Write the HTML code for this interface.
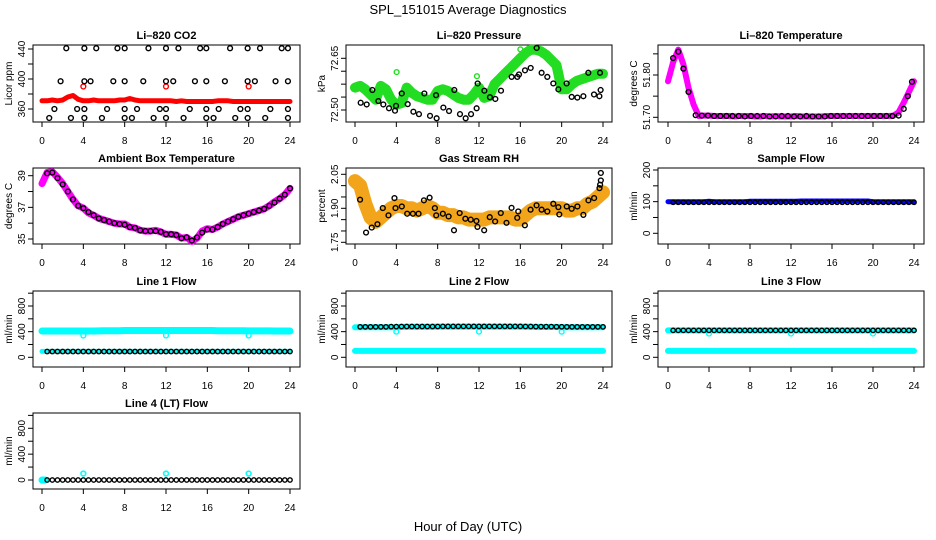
<!DOCTYPE html>
<html><head><meta charset="utf-8"><title>SPL_151015 Average Diagnostics</title>
<style>
html,body{margin:0;padding:0;background:#fff;}
svg{display:block;font-family:"Liberation Sans",sans-serif;}
</style></head>
<body>
<svg id="chart" width="936" height="540" viewBox="0 0 936 540" xmlns="http://www.w3.org/2000/svg">
<rect x="0" y="0" width="936" height="540" fill="#fff"/>
<text x="468" y="14" text-anchor="middle" font-size="13">SPL_151015  Average Diagnostics</text>
<text x="468" y="531" text-anchor="middle" font-size="13">Hour of Day (UTC)</text>
</svg>
<script>
// ---------- data ----------
const xTicks = [0,4,8,12,16,20,24];
const H = [0,0.5,1,1.5,2,2.5,3,3.5,4,4.5,5,5.5,6,6.5,7,7.5,8,8.5,9,9.5,10,10.5,11,11.5,12,12.5,13,13.5,14,14.5,15,15.5,16,16.5,17,17.5,18,18.5,19,19.5,20,20.5,21,21.5,22,22.5,23,23.5,24];
const HB = [0.5,1,1.5,2,2.5,3,3.5,4,4.5,5,5.5,6,6.5,7,7.5,8,8.5,9,9.5,10,10.5,11,11.5,12,12.5,13,13.5,14,14.5,15,15.5,16,16.5,17,17.5,18,18.5,19,19.5,20,20.5,21,21.5,22,22.5,23,23.5,24];
const outlierHours = [4,12,20];

// CO2
const co2Red = [371,371,372,371,372,376,378,373,371,371,372,371,371,371,371,372,372,374,372,371,371,371,371,371,371,371,370,371,370,370,370,370,370,370,371,371,371,370,370,370,370,370,370,370,370,370,370,370,370];
const co2RedOut = [390,390,390];
const co2BlackHours = [2.35,4.1,5.25,7.3,8.0,10.3,12.0,13.2,15.3,15.9,18.2,19.9,21.1,23.2,23.8, 1.8,4.1,4.7,6.9,8.0,9.8,12.0,12.7,14.8,15.9,17.7,19.9,20.6,22.6,23.8, 1.2,3.4,4.1,6.3,8.0,9.2,11.4,12.0,14.3,15.9,17.1,19.2,19.9,22.1,23.8, 0.7,2.8,4.1,5.8,8.0,8.7,10.8,12.0,13.7,15.9,16.6,18.7,19.9,21.6,23.8];
const co2BlackVals = [441,441,441,441,441,441,441,441,441,441,441,441,441,441,441, 397,397,397,397,397,397,397,397,397,397,397,397,397,397,397, 360,360,360,360,360,360,360,360,360,360,360,360,360,360,360, 348,348,348,348,348,348,348,348,348,348,348,348,348,348,348];

// Pressure
const presGreen = [72.565,72.57,72.56,72.545,72.53,72.57,72.56,72.53,72.515,72.52,72.565,72.55,72.54,72.535,72.53,72.53,72.555,72.56,72.555,72.545,72.535,72.53,72.53,72.545,72.565,72.535,72.54,72.575,72.59,72.605,72.62,72.635,72.65,72.665,72.675,72.675,72.67,72.66,72.645,72.63,72.56,72.56,72.575,72.585,72.59,72.595,72.6,72.605,72.605];
const presGreenOutHours = [4.03,11.8,16.0];
const presGreenOut = [72.61,72.598,72.676];
const presBlackHours = [0.55,1.13,1.68,2.26,2.74,3.29,3.87,3.97,4.52,5.10,5.65,6.19,6.71,7.26,7.84,7.9,8.55,9.1,9.61,10.16,10.71,11.23,11.77,11.87,12.52,13.06,13.58,14.13,15.16,15.71,15.87,16.45,17.0,17.58,18.06,18.61,19.19,19.68,20.48,20.97,21.52,22.1,22.58,23.13,23.65,23.77,23.71];
const presBlackVals = [72.521,72.516,72.558,72.526,72.516,72.505,72.498,72.512,72.548,72.517,72.495,72.488,72.548,72.483,72.543,72.476,72.507,72.497,72.558,72.488,72.476,72.488,72.505,72.577,72.556,72.537,72.532,72.556,72.596,72.596,72.603,72.615,72.622,72.68,72.608,72.596,72.577,72.56,72.577,72.538,72.536,72.54,72.608,72.545,72.54,72.558,72.608];

// Li-820 temperature
const tempMag = [51.785,51.83,51.86,51.825,51.77,51.73,51.703,51.704,51.704,51.703,51.703,51.703,51.703,51.702,51.703,51.703,51.703,51.702,51.702,51.703,51.702,51.703,51.702,51.702,51.702,51.703,51.702,51.702,51.702,51.702,51.702,51.703,51.703,51.703,51.703,51.703,51.703,51.703,51.703,51.703,51.703,51.703,51.703,51.703,51.704,51.712,51.735,51.76,51.785];
const tempBlackHours = [0.5,1,1.5,2,2.7,3.3,3.9,4.5,5.1,5.7,6.3,6.9,7.5,8.1,8.7,9.3,9.9,10.5,11.1,11.7,12.3,12.9,13.5,14.1,14.7,15.3,15.9,16.5,17.1,17.7,18.3,18.9,19.5,20.1,20.7,21.3,21.9,22.5,23.0,23.4,23.8];
const tempBlackVals = [51.84,51.855,51.815,51.76,51.705,51.704,51.704,51.703,51.703,51.703,51.703,51.703,51.702,51.703,51.703,51.703,51.702,51.702,51.703,51.703,51.702,51.702,51.703,51.702,51.702,51.702,51.703,51.703,51.703,51.703,51.703,51.703,51.703,51.703,51.703,51.703,51.703,51.704,51.72,51.75,51.784];

// Ambient box temperature
const ambMag = [38.5,39.2,39.25,38.9,38.5,38.0,37.5,37.1,36.95,36.65,36.5,36.3,36.2,36.1,36.0,35.95,35.95,35.75,35.7,35.55,35.5,35.5,35.55,35.45,35.3,35.3,35.25,35.05,35.1,34.85,35.05,35.5,35.65,35.6,35.75,35.95,36.1,36.25,36.4,36.5,36.6,36.7,36.8,36.9,37.1,37.35,37.55,37.8,38.2];
const ambBlack = [39.15,39.2,38.85,38.45,38.0,37.5,37.1,36.95,36.7,36.5,36.3,36.2,36.1,36.0,35.95,35.9,35.75,35.7,35.55,35.5,35.5,35.5,35.45,35.3,35.3,35.25,35.05,35.1,34.9,35.1,35.4,35.6,35.6,35.75,35.95,36.1,36.25,36.4,36.5,36.6,36.7,36.8,36.9,37.1,37.3,37.55,37.8,38.2];

// Gas stream RH
const rhOrange = [2.02,2.0,1.92,1.86,1.84,1.86,1.88,1.9,1.91,1.91,1.9,1.9,1.89,1.9,1.91,1.9,1.88,1.88,1.87,1.87,1.86,1.86,1.85,1.85,1.85,1.85,1.86,1.86,1.86,1.86,1.86,1.85,1.85,1.87,1.89,1.9,1.9,1.9,1.9,1.9,1.9,1.89,1.89,1.9,1.9,1.92,1.93,1.95,1.97];
const rhBlackHours = [0.49,1.07,1.62,2.17,2.69,3.24,3.82,3.92,4.53,5.05,5.6,6.15,6.67,7.22,7.73,7.86,8.5,9.06,9.58,10.13,10.68,11.2,11.75,11.85,12.5,13.04,13.56,14.11,14.66,15.15,15.7,15.8,16.44,16.99,17.57,18.06,18.61,19.19,19.68,19.77,20.49,20.97,21.52,22.1,22.59,23.14,23.66,23.79,23.79,23.72];
const rhBlackVals = [1.938,1.793,1.815,1.83,1.901,1.869,1.945,1.901,1.908,1.876,1.876,1.876,1.935,1.947,1.901,1.869,1.876,1.864,1.803,1.879,1.854,1.85,1.844,1.818,1.803,1.861,1.842,1.879,1.836,1.902,1.858,1.886,1.825,1.894,1.913,1.894,1.886,1.92,1.905,1.873,1.908,1.898,1.908,1.871,1.935,1.945,1.989,2.023,2.056,2.004];

// Sample flow
const sampleBlue = [100,100,100,100,100,100,100,100,101,100,100,100,100,100,100,100,101,101,101,101,101,101,101,101,101,101,102,102,102,102,102,102,102,102,102,102,102,102,102,102,100,100,100,100,100,100,100,100,100];
const sampleBlack = [98,98,98,98,98,98,98,98,98,98,98,98,98,98,98,98,98,98,98,98,98,98,98,98,98,98,98,98,98,98,98,98,98,98,98,98,98,98,98,98,98,98,98,98,98,98,98,98];

// Line 1
const l1CyanHigh = [410,410,410,410,410,410,410,410,410,410,410,412,415,415,415,415,418,418,418,418,418,418,418,418,418,418,418,418,418,418,418,418,418,418,415,415,415,415,415,415,412,412,412,412,412,410,410,410,410];
const l1CyanLow = [92,92,92,92,92,92,92,92,92,92,92,92,92,92,92,92,92,92,92,92,92,92,92,92,92,92,92,92,92,92,92,92,92,92,92,92,92,92,92,92,92,92,92,92,92,92,92,92,92];
const l1CyanOut = [340,340,340];
const l1Black = [90,90,90,90,90,90,90,90,90,90,90,90,90,90,90,90,90,90,90,90,90,90,90,90,90,90,90,90,90,90,90,90,90,90,90,90,90,90,90,90,90,90,90,90,90,90,90,90];

// Line 2
const l2CyanHigh = [470,470,470,470,470,470,470,470,470,472,475,475,475,475,475,475,478,478,478,478,478,478,478,478,478,478,478,478,478,478,478,478,478,478,476,474,472,472,472,472,468,468,468,468,468,468,468,468,468];
const l2CyanLow = [100,100,100,100,100,100,100,100,100,100,100,100,100,100,100,100,100,100,100,100,100,100,100,100,100,100,100,100,100,100,100,100,100,100,100,100,100,100,100,100,100,100,100,100,100,100,100,100,100];
const l2CyanOut = [400,400,400];
const l2Black = [475,475,475,475,475,475,478,478,480,480,480,480,480,480,480,480,482,482,482,482,482,482,482,482,482,482,482,482,482,482,482,482,480,480,478,478,478,478,476,476,475,475,475,475,475,475,475,475];

// Line 3
const l3CyanHigh = [420,420,420,420,420,420,420,420,420,420,420,420,420,420,420,420,420,420,420,420,420,420,420,420,420,420,420,420,420,420,420,420,420,420,420,420,420,420,420,420,420,420,420,420,420,420,420,420,420];
const l3CyanLow = [100,100,100,100,100,100,100,100,100,100,100,100,100,100,100,100,100,100,100,100,100,100,100,100,100,100,100,100,100,100,100,100,100,100,100,100,100,100,100,100,100,100,100,100,100,100,100,100,100];
const l3CyanOut = [370,370,370];
const l3Black = [420,420,420,420,420,420,420,420,420,420,420,420,420,420,420,420,420,420,420,420,420,420,420,420,420,420,420,420,420,420,420,420,420,420,420,420,420,420,420,420,420,420,420,420,420,420,420,420];

// Line 4
const l4CyanStartHours = [0,0.15,0.3];
const l4CyanStart = [0,0,0];
const l4CyanOut = [100,100,100];
const l4Black = [0,0,0,0,0,0,0,0,0,0,0,0,0,0,0,0,0,0,0,0,0,0,0,0,0,0,0,0,0,0,0,0,0,0,0,0,0,0,0,0,0,0,0,0,0,0,0,0];

// y ticks
const co2Ticks = [360,380,400,420,440], co2Labels = [360,400,440];
const presTicks = [72.50,72.5375,72.575,72.6125,72.65], presLabels = ['72.50','72.65'];
const tempTicks = [51.70,51.75,51.80,51.85], tempLabels = ['51.70','51.80'];
const ambTicks = [35,36,37,38,39], ambLabels = [35,37,39];
const rhTicks = [1.75,1.80,1.85,1.90,1.95,2.00,2.05], rhLabels = ['1.75','1.90','2.05'];
const sampleTicks = [0,50,100,150,200], sampleLabels = [0,100,200];
const flowTicks = [0,200,400,600,800,1000], flowLabels = [0,400,800];

// ---------- drawing ----------
const NS = 'http://www.w3.org/2000/svg';
const svg = document.getElementById('chart');
function mk(tag, attrs, parent){
  const e = document.createElementNS(NS, tag);
  for (const k in attrs) e.setAttribute(k, attrs[k]);
  (parent||svg).appendChild(e);
  return e;
}
const COLS = [{l:33,r:300,x0:42,x24:290},{l:346,r:612,x0:355,x24:603},{l:658,r:924,x0:668,x24:914}];
const ROWS = [{t:45,b:122},{t:168,b:244},{t:291,b:367},{t:413,b:489}];

function panel(name, title, ylab, col, row, yref, ticks, labels){
  const c = COLS[col], r = ROWS[row];
  const g = mk('g', {});
  
  
  const sx = h => c.x0 + (c.x24 - c.x0) * h / 24;
  const sy = v => yref[1] + (yref[3] - yref[1]) * (v - yref[0]) / (yref[2] - yref[0]);
  const box = mk('rect', {x:c.l, y:r.t, width:c.r-c.l, height:r.b-r.t, fill:'none', stroke:'#000', 'stroke-width':1}, g);
  
  
  const tt = mk('text', {x:(c.l+c.r)/2, y:r.t-6, 'text-anchor':'middle', 'font-size':11, 'font-weight':'bold'}, g);
  tt.textContent = title;
  
  
  const yt = mk('text', {transform:`translate(${c.l-21},${(r.t+r.b)/2}) rotate(-90)`, 'text-anchor':'middle', 'font-size':10}, g);
  yt.textContent = ylab;
  
  
  // x axis
  const xa = mk('g', {}, g);
  
  
  mk('line', {x1:sx(0), x2:sx(24), y1:r.b, y2:r.b, stroke:'#000'}, xa);
  xTicks.forEach(h => {
    mk('line', {x1:sx(h), x2:sx(h), y1:r.b, y2:r.b+5, stroke:'#000'}, xa);
    const t = mk('text', {x:sx(h), y:r.b+22, 'text-anchor':'middle', 'font-size':10}, xa);
    t.textContent = h;
    
    
  });
  // y axis
  const ya = mk('g', {}, g);
  
  
  mk('line', {x1:c.l, x2:c.l, y1:sy(ticks[0]), y2:sy(ticks[ticks.length-1]), stroke:'#000'}, ya);
  ticks.forEach(v => mk('line', {x1:c.l-5, x2:c.l, y1:sy(v), y2:sy(v), stroke:'#000'}, ya));
  labels.forEach(v => {
    const t = mk('text', {transform:`translate(${c.l-8},${sy(+v)}) rotate(-90)`, 'text-anchor':'middle', 'font-size':10}, ya);
    t.textContent = v;
    
    
  });
  return {g, sx, sy};
}
function band(p, name, hours, vals, color, w){
  const pts = hours.map((h,i)=>p.sx(h).toFixed(1)+','+p.sy(vals[i]).toFixed(1)).join(' ');
  const pl = mk('polyline', {points:pts, fill:'none', stroke:color, 'stroke-width':w, 'stroke-linejoin':'round', 'stroke-linecap':'round'}, p.g);
  
  
}
function pts(p, name, hours, vals, color, r, sw){
  const g = mk('g', {}, p.g);
  
  
  hours.forEach((h,i) => {
    const c = mk('circle', {cx:p.sx(h), cy:p.sy(vals[i]), r:r||2.4, fill:'none', stroke:color, 'stroke-width':sw||1.4}, g);
    
    
  });
}

// Panel 1
let p = panel('co2-panel','Li\u2013820 CO2','Licor ppm',0,0,[440,49,360,109],co2Ticks,co2Labels);
band(p,'co2-red-band',H,co2Red,'#ff0000',5);
pts(p,'co2-red-outliers',outlierHours,co2RedOut,'#ff0000',2.4,1.4);
pts(p,'co2-black-points',co2BlackHours,co2BlackVals,'#000',2.4,1.4);

// Panel 2
p = panel('pressure-panel','Li\u2013820 Pressure','kPa',1,0,[72.65,58.3,72.50,110],presTicks,presLabels);
band(p,'pressure-green-band',H,presGreen,'#22dd22',10);
pts(p,'pressure-green-outliers',presGreenOutHours,presGreenOut,'#22dd22',2.4,1.4);
pts(p,'pressure-black-points',presBlackHours,presBlackVals,'#000',2.4,1.4);

// Panel 3
p = panel('licor-temp-panel','Li\u2013820 Temperature','degrees C',2,0,[51.80,75,51.70,117.3],tempTicks,tempLabels);
band(p,'licor-temp-magenta-band',H,tempMag,'#ff00ff',6);
pts(p,'licor-temp-black-points',tempBlackHours,tempBlackVals,'#000',2.4,1.4);

// Panel 4
p = panel('ambient-temp-panel','Ambient Box Temperature','degrees C',0,1,[39,175.7,35,239],ambTicks,ambLabels);
band(p,'ambient-magenta-band',H,ambMag,'#ff00ff',7);
pts(p,'ambient-black-points',HB,ambBlack,'#000',2.4,1.4);

// Panel 5
p = panel('rh-panel','Gas Stream RH','percent',1,1,[2.05,174.3,1.75,242.3],rhTicks,rhLabels);
band(p,'rh-orange-band',H,rhOrange,'#f2a51a',14);
pts(p,'rh-black-points',rhBlackHours,rhBlackVals,'#000',2.4,1.4);

// Panel 6
p = panel('sample-flow-panel','Sample Flow','ml/min',2,1,[200,170,0,233.3],sampleTicks,sampleLabels);
band(p,'sample-blue-band',H,sampleBlue,'#0000ff',5);
pts(p,'sample-black-points',HB,sampleBlack,'#000',2.2,1.4);

// Panel 7
p = panel('line1-flow-panel','Line 1 Flow','ml/min',0,2,[800,306,0,357.3],flowTicks,flowLabels);
band(p,'line1-cyan-high',H,l1CyanHigh,'#00ffff',7);
band(p,'line1-cyan-low',H,l1CyanLow,'#00ffff',5);
pts(p,'line1-cyan-outliers',outlierHours,l1CyanOut,'#00ffff',2.4,1.4);
pts(p,'line1-black-points',HB,l1Black,'#000',2.2,1.4);

// Panel 8
p = panel('line2-flow-panel','Line 2 Flow','ml/min',1,2,[800,306,0,357.3],flowTicks,flowLabels);
band(p,'line2-cyan-high',H,l2CyanHigh,'#00ffff',6);
band(p,'line2-cyan-low',H,l2CyanLow,'#00ffff',6);
pts(p,'line2-cyan-outliers',outlierHours,l2CyanOut,'#00ffff',2.4,1.4);
pts(p,'line2-black-points',HB,l2Black,'#000',2.2,1.4);

// Panel 9
p = panel('line3-flow-panel','Line 3 Flow','ml/min',2,2,[800,306,0,357.3],flowTicks,flowLabels);
band(p,'line3-cyan-high',H,l3CyanHigh,'#00ffff',6);
band(p,'line3-cyan-low',H,l3CyanLow,'#00ffff',6);
pts(p,'line3-cyan-outliers',outlierHours,l3CyanOut,'#00ffff',2.4,1.4);
pts(p,'line3-black-points',HB,l3Black,'#000',2.2,1.4);

// Panel 10
p = panel('line4-flow-panel','Line 4 (LT) Flow','ml/min',0,3,[800,428.3,0,480],flowTicks,flowLabels);
pts(p,'line4-cyan-start',l4CyanStartHours,l4CyanStart,'#00ffff',2.6,1.8);
pts(p,'line4-cyan-outliers',outlierHours,l4CyanOut,'#00ffff',2.4,1.6);
pts(p,'line4-black-points',HB,l4Black,'#000',2.2,1.4);
</script>
</body></html>
